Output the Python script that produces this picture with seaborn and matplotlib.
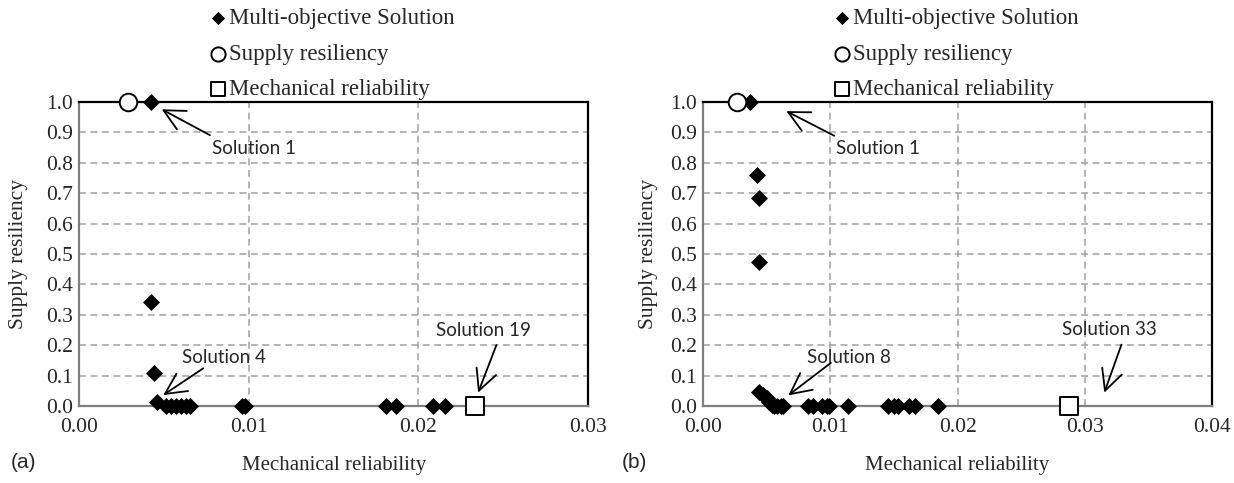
import matplotlib
matplotlib.use("Agg")
import matplotlib.pyplot as plt
import seaborn as sns
import pandas as pd

# ---------------- data ----------------
# Panel (a)
a_multi_x = [0.00425, 0.0042, 0.00443, 0.00456, 0.0051, 0.0054, 0.0057, 0.0060, 0.0063, 0.0065,
             0.0096, 0.0098, 0.0181, 0.0187, 0.02086, 0.02155]
a_multi_y = [1.0, 0.343, 0.109, 0.014, 0.0, 0.0, 0.0, 0.0, 0.0, 0.0,
             0.0, 0.0, 0.0, 0.0, 0.0, 0.0]
a_res_x = [0.00289]
a_res_y = [1.0]
a_mech_x = [0.02335]
a_mech_y = [0.0]

# Panel (b)
b_multi_x = [0.00367, 0.00424, 0.00437, 0.0044, 0.0044, 0.0047, 0.0050, 0.0052, 0.0054, 0.0056,
             0.0058, 0.0061, 0.0063, 0.0082, 0.0086, 0.0093, 0.0097, 0.0099, 0.01137,
             0.01457, 0.0150, 0.0153, 0.0162, 0.01667, 0.0185]
b_multi_y = [1.0, 0.760, 0.685, 0.474, 0.045, 0.037, 0.025, 0.012, 0.003, 0.0,
             0.0, 0.0, 0.0, 0.0, 0.0, 0.0, 0.0, 0.0, 0.0,
             0.0, 0.0, 0.0, 0.0, 0.0, 0.0]
b_res_x = [0.00265]
b_res_y = [1.0]
b_mech_x = [0.02875]
b_mech_y = [0.0]

series_labels = ["Multi-objective Solution", "Supply resiliency", "Mechanical reliability"]
x_label = "Mechanical reliability"
y_label = "Supply resiliency"
a_xticks = [0.00, 0.01, 0.02, 0.03]
b_xticks = [0.00, 0.01, 0.02, 0.03, 0.04]
yticks = [0.0, 0.1, 0.2, 0.3, 0.4, 0.5, 0.6, 0.7, 0.8, 0.9, 1.0]

# annotations: (text, text_x, text_y, tail_x, tail_y, tip_x, tip_y)
a_notes = [("Solution 1", 0.0078, 0.848, 0.0077, 0.891, 0.00486, 0.976),
           ("Solution 4", 0.00603, 0.160, 0.00731, 0.124, 0.00495, 0.036),
           ("Solution 19", 0.02106, 0.248, 0.0246, 0.2007, 0.02352, 0.044)]
b_notes = [("Solution 1", 0.01044, 0.848, 0.0103, 0.889, 0.00653, 0.970),
           ("Solution 8", 0.00813, 0.161, 0.01004, 0.142, 0.00669, 0.035),
           ("Solution 33", 0.0282, 0.251, 0.0329, 0.202, 0.03155, 0.044)]

# ---------------- style ----------------
sns.set_style("white")
plt.rcParams["font.family"] = ["Liberation Serif", "DejaVu Serif"]
plt.rcParams["font.size"] = 15

fig = plt.figure(figsize=(12.34, 4.83), dpi=100)
W, H = 1234.0, 483.0
ax_a = fig.add_axes([79.3 / W, 1 - 406 / H, (588 - 79.3) / W, (406 - 102) / H])
ax_b = fig.add_axes([703.3 / W, 1 - 406 / H, (1211.7 - 703.3) / W, (406 - 102) / H])


def draw(ax, mx, my, rx, ry, kx, ky, xticks, notes, ylab_x):
    ax.set_xlim(xticks[0], xticks[-1])
    ax.set_ylim(0, 1.0)
    ax.set_xticks(xticks)
    ax.set_xticklabels([f"{t:.2f}" for t in xticks])
    ax.set_yticks(yticks)
    ax.set_yticklabels([f"{t:.1f}" for t in yticks])
    ax.grid(True, color="#a0a0a0", linestyle=(0, (4.5, 3)), linewidth=1.1)
    ax.set_axisbelow(True)
    for s in ["top", "right"]:
        ax.spines[s].set_color("black")
        ax.spines[s].set_linewidth(1.6)
    for s in ["left", "bottom"]:
        ax.spines[s].set_color("#7f7f7f")
        ax.spines[s].set_linewidth(1.6)
    ax.tick_params(axis="both", length=0, labelsize=15.5)
    ax.tick_params(axis="x", pad=9)
    ax.tick_params(axis="y", pad=4.5)

    df_m = pd.DataFrame({"x": mx, "y": my})
    df_r = pd.DataFrame({"x": rx, "y": ry})
    df_k = pd.DataFrame({"x": kx, "y": ky})
    sns.scatterplot(data=df_m, x="x", y="y", ax=ax, marker="D", s=75, color="black",
                    edgecolor="black", linewidth=0, label=series_labels[0], clip_on=False, zorder=5)
    sns.scatterplot(data=df_r, x="x", y="y", ax=ax, marker="o", s=160, facecolor="white",
                    edgecolor="black", linewidth=1.4, label=series_labels[1], clip_on=False, zorder=5)
    sns.scatterplot(data=df_k, x="x", y="y", ax=ax, marker="s", s=165, facecolor="white",
                    edgecolor="black", linewidth=1.4, label=series_labels[2], clip_on=False, zorder=5)

    for txt, tx, ty, x0, y0, x1, y1 in notes:
        ax.text(tx, ty, txt, family=["Lato", "DejaVu Sans"], fontsize=13.5,
                ha="left", va="center", zorder=6)
        ax.annotate("", xy=(x1, y1), xytext=(x0, y0),
                    arrowprops=dict(arrowstyle="->,head_length=1.0,head_width=0.5",
                                    color="black", lw=1.3, shrinkA=0, shrinkB=0), zorder=6)

    ax.set_xlabel(x_label, fontsize=15)
    ax.set_ylabel(y_label, fontsize=15.5)
    ax.xaxis.set_label_coords(0.5, -0.165)
    ax.yaxis.set_label_coords(ylab_x, 0.5)

    leg = ax.legend(loc="upper left", bbox_to_anchor=(0.257, 1.308), frameon=False,
                    fontsize=16.5, handlelength=0.7, handletextpad=0.12,
                    labelspacing=0.62, borderpad=0, borderaxespad=0)
    for h, sz in zip(leg.legend_handles, [45, 105, 115]):
        h.set_sizes([sz])


draw(ax_a, a_multi_x, a_multi_y, a_res_x, a_res_y, a_mech_x, a_mech_y,
     a_xticks, a_notes, -0.1)
draw(ax_b, b_multi_x, b_multi_y, b_res_x, b_res_y, b_mech_x, b_mech_y,
     b_xticks, b_notes, -0.089)

fig.text(11 / W, 1 - 462 / H, "(a)", family=["Liberation Sans", "DejaVu Sans"],
         fontsize=15, va="center", ha="left")
fig.text(622 / W, 1 - 462 / H, "(b)", family=["Liberation Sans", "DejaVu Sans"],
         fontsize=15, va="center", ha="left")

fig.savefig("out.png", dpi=100)
